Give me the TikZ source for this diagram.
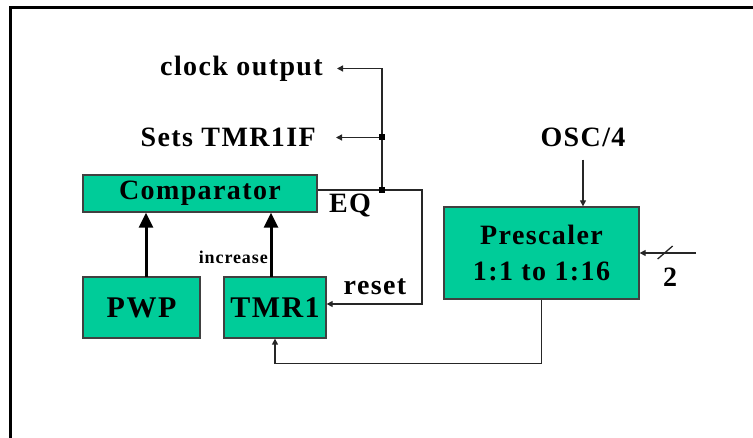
\documentclass[tikz,border=0pt]{standalone}
\usepackage{fontspec}
\setmainfont{Liberation Serif}[LetterSpace=5]
\usetikzlibrary{arrows.meta}
\definecolor{blockgreen}{RGB}{0,204,153}

\begin{document}
\begin{tikzpicture}[x=1pt,y=-1pt,
  block/.style={draw=black!75,line width=1.3pt,fill=blockgreen,inner sep=0pt,font=\fontsize{28}{30}\selectfont\bfseries},
  lbl/.style={inner sep=0pt,font=\fontsize{28}{30}\selectfont\bfseries},
  wire/.style={draw=black!85,line width=1.3pt},
  sig/.style={wire,-{Triangle[length=6pt,width=6pt]}},
  bigarrow/.style={draw=black,line width=3pt,-{Triangle[length=15pt,width=14pt]}},
  jdot/.style={fill=black,inner sep=0pt,minimum size=6pt}]
  \useasboundingbox (0,0) rectangle (753,438);
  \draw[line width=3pt] (10,438) -- (10,8) -- (753,8);
  \node[block,minimum width=234pt,minimum height=37pt] (cmp) at (200,193.5) {Comparator};
  \node[block,minimum width=117pt,minimum height=61pt,font=\fontsize{30}{32}\selectfont\bfseries] (pwp) at (141.5,307.5) {PWP};
  \node[block,minimum width=102pt,minimum height=61pt,font=\fontsize{30}{32}\selectfont\bfseries] (tmr) at (275,307.5) {TMR1};
  \node[block,minimum width=195pt,minimum height=92pt,align=center,font=\fontsize{28}{36}\selectfont\bfseries] (pre) at (541.5,253) {Prescaler\\1:1 to 1:16};
  \node[lbl,anchor=east] (clk) at (323,68.5) {clock output};
  \node[lbl,anchor=east] (sets) at (316,137.5) {Sets TMR1IF};
  \node[lbl] (eqlbl) at (350,206) {EQ};
  \node[lbl] (rst) at (375,287) {reset};
  \node[lbl,anchor=east,font=\fontsize{18}{20}\selectfont\bfseries] (inc) at (268,257) {increase};
  \node[lbl] (osc) at (583,137) {OSC/4};
  \node[lbl] (bw) at (670,277.5) {2};
  \coordinate (eq) at (382,190);
  \coordinate (rt) at (422,190);
  \coordinate (pwpout) at (146,277);
  \coordinate (tmrout) at (271,277);
  \coordinate (busin) at (696,253);
  \draw[wire] (cmp.east |- eq) -- (eq);
  \draw[sig] (eq) -- (rt) |- ([yshift=3.5pt]tmr.east);
  \draw[sig] (eq) |- ([xshift=14pt]clk.east);
  \draw[sig] (eq |- sets) -- ([xshift=20pt]sets.east);
  \node[jdot] at (eq) {};
  \node[jdot] at (eq |- sets) {};
  \draw[bigarrow] (pwpout) -- (pwpout |- cmp.south);
  \draw[bigarrow] (tmrout) -- (tmrout |- cmp.south);
  \draw[sig] ([yshift=-13pt]osc.south) -- (osc.south |- pre.north);
  \draw[sig] (busin) -- (pre.east);
  \draw[wire] ([shift={(18,6)}]pre.east) -- ([shift={(33,-7)}]pre.east);
  \draw[sig] (pre.south) |- ([yshift=-25pt]tmr.south) -- (tmr.south);
\end{tikzpicture}
\end{document}
